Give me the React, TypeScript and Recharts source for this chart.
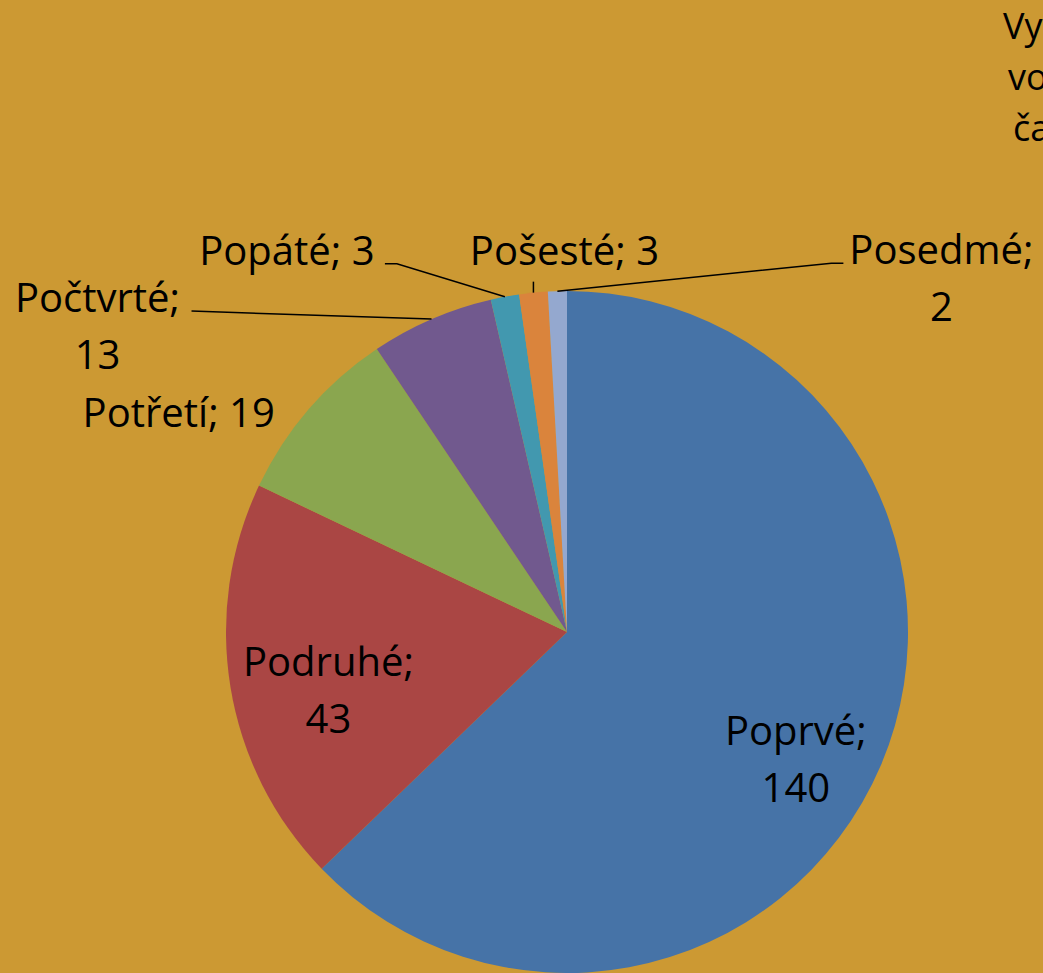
import { PieChart, Pie, Cell } from "recharts";

const names = ["Poprvé", "Podruhé", "Potřetí", "Počtvrté", "Popáté", "Pošesté", "Posedmé"];
const counts = [140, 43, 19, 13, 3, 3, 2];
const colors = ["#4673A7", "#AA4644", "#8AA64F", "#71598E", "#4298AF", "#DA843C", "#94A8CF"];
const titleLines = ["Vy", "vo", "ča"];

const pieData = names.map((name, i) => ({ name, value: counts[i] }));

// label placement, relative to the point on the rim at each slice's mid angle
// lines: how the text wraps, off: label centre (first baseline), leader: start offset + horizontal tail
const labelLayout = [
  { lines: 2, off: [-85, -20] },
  { lines: 2, off: [98, -11] },
  { lines: 1, off: [-130, 18] },
  { lines: 2, off: [-334, -7], leader: [94, -1, 0] },
  { lines: 1, off: [-218, -32], leader: [98, -1, 12] },
  { lines: 1, off: [31, -28], leader: [-31, 17, 0] },
  { lines: 2, off: [384, -27], leader: [-98, -1, -12] },
];

const RADIAN = Math.PI / 180;
const FONT = "'Open Sans', sans-serif";

const renderLabel = (props: any) => {
  const { cx, cy, midAngle, outerRadius, index, name, value } = props;
  const ax = cx + outerRadius * Math.cos(-midAngle * RADIAN);
  const ay = cy + outerRadius * Math.sin(-midAngle * RADIAN);
  const lay = labelLayout[index];
  const lx = ax + lay.off[0];
  const ly = ay + lay.off[1];
  const rows = lay.lines === 2 ? [`${name};`, `${value}`] : [`${name}; ${value}`];
  let leader = null;
  if (lay.leader) {
    const sx = lx + lay.leader[0];
    const sy = ly + lay.leader[1];
    leader = (
      <polyline
        points={`${sx},${sy} ${sx + lay.leader[2]},${sy} ${ax},${ay}`}
        fill="none"
        stroke="#000"
        strokeWidth={1.5}
      />
    );
  }
  return (
    <g>
      {leader}
      {rows.map((r, i) => (
        <text
          key={i}
          x={lx}
          y={ly + i * 57}
          textAnchor="middle"
          fill="#000"
          fontFamily={FONT}
          fontSize={40}
        >
          {r}
        </text>
      ))}
    </g>
  );
};

export default function App() {
  return (
    <div
      style={{
        position: "absolute",
        left: 0,
        top: 0,
        width: 1043,
        height: 973,
        background: "#CC9933",
        overflow: "hidden",
      }}
    >
      <div style={{ position: "absolute", left: 1003, top: 0, fontFamily: FONT, fontSize: 36, lineHeight: "51px", whiteSpace: "nowrap" }}>
        {titleLines.map((t, i) => (
          <div key={i} style={{ marginLeft: [0, 5, 10][i] }}>{t}</div>
        ))}
      </div>
      <PieChart width={1043} height={973} margin={{ top: 0, right: 0, bottom: 0, left: 0 }}>
        <Pie
          data={pieData}
          dataKey="value"
          nameKey="name"
          cx={567}
          cy={632}
          outerRadius={341}
          startAngle={90}
          endAngle={-270}
          stroke="none"
          label={renderLabel}
          labelLine={false}
          isAnimationActive={false}
        >
          {pieData.map((d, i) => (
            <Cell key={d.name} fill={colors[i]} />
          ))}
        </Pie>
      </PieChart>
    </div>
  );
}
